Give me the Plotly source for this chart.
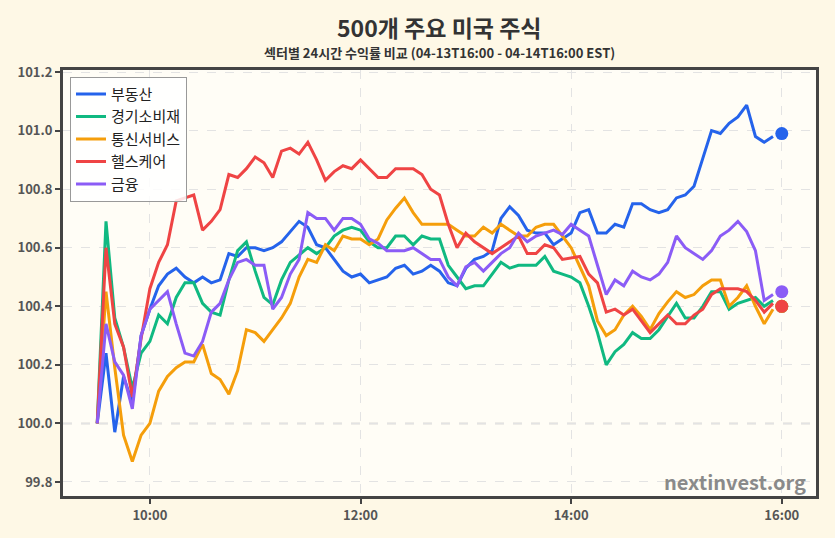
import pandas as pd
import plotly.graph_objects as go

times = pd.date_range("2025-04-14 09:30", periods=78, freq="5min")
end_time = pd.Timestamp("2025-04-14 16:00")

names = ["부동산", "경기소비재", "통신서비스", "헬스케어", "금융"]
colors = ["#2563EB", "#10B981", "#F59E0B", "#EF4444", "#8B5CF6"]

real_estate = [100.00, 100.24, 99.97, 100.16, 100.07, 100.30, 100.39, 100.47, 100.51, 100.53,
               100.50, 100.48, 100.50, 100.48, 100.49, 100.58, 100.57, 100.60, 100.60, 100.59,
               100.60, 100.62, 100.655, 100.69, 100.67, 100.61, 100.60, 100.56, 100.52, 100.50,
               100.51, 100.48, 100.49, 100.50, 100.53, 100.54, 100.51, 100.52, 100.54, 100.52,
               100.48, 100.47, 100.53, 100.56, 100.57, 100.59, 100.70, 100.74, 100.71, 100.66,
               100.65, 100.65, 100.61, 100.63, 100.65, 100.72, 100.73, 100.65, 100.65, 100.68,
               100.67, 100.75, 100.75, 100.73, 100.72, 100.73, 100.77, 100.78, 100.81, 100.905,
               101.00, 100.99, 101.025, 101.047, 101.087, 100.98, 100.96, 100.98]
consumer = [100.00, 100.69, 100.36, 100.26, 100.12, 100.24, 100.28, 100.37, 100.34, 100.43,
            100.48, 100.48, 100.41, 100.38, 100.37, 100.49, 100.59, 100.62, 100.52, 100.43,
            100.405, 100.49, 100.55, 100.575, 100.60, 100.58, 100.60, 100.64, 100.66, 100.67,
            100.66, 100.62, 100.60, 100.60, 100.64, 100.64, 100.61, 100.64, 100.63, 100.63,
            100.54, 100.50, 100.46, 100.47, 100.47, 100.51, 100.55, 100.53, 100.54, 100.54,
            100.54, 100.57, 100.52, 100.51, 100.50, 100.48, 100.40, 100.31, 100.20, 100.245,
            100.27, 100.31, 100.29, 100.29, 100.32, 100.365, 100.41, 100.36, 100.36, 100.40,
            100.45, 100.45, 100.39, 100.41, 100.42, 100.43, 100.40, 100.42]
telecom = [100.00, 100.45, 100.19, 99.96, 99.87, 99.96, 100.00, 100.11, 100.16, 100.19,
           100.21, 100.21, 100.27, 100.17, 100.15, 100.10, 100.18, 100.32, 100.31, 100.28,
           100.32, 100.36, 100.41, 100.50, 100.56, 100.55, 100.61, 100.59, 100.64, 100.63,
           100.63, 100.61, 100.63, 100.695, 100.735, 100.77, 100.72, 100.68, 100.68, 100.68,
           100.68, 100.66, 100.64, 100.64, 100.67, 100.65, 100.68, 100.66, 100.64, 100.64,
           100.67, 100.68, 100.68, 100.64, 100.60, 100.535, 100.47, 100.35, 100.30, 100.32,
           100.37, 100.40, 100.365, 100.32, 100.375, 100.415, 100.45, 100.43, 100.44, 100.47,
           100.49, 100.49, 100.40, 100.43, 100.47, 100.40, 100.34, 100.39]
healthcare = [100.00, 100.60, 100.34, 100.26, 100.09, 100.29, 100.46, 100.55, 100.61, 100.76,
              100.77, 100.78, 100.66, 100.69, 100.73, 100.85, 100.84, 100.87, 100.91, 100.89,
              100.84, 100.93, 100.94, 100.92, 100.96, 100.90, 100.83, 100.86, 100.88, 100.87,
              100.90, 100.87, 100.84, 100.84, 100.87, 100.87, 100.87, 100.85, 100.80, 100.78,
              100.68, 100.60, 100.65, 100.62, 100.60, 100.58, 100.60, 100.62, 100.64, 100.58,
              100.58, 100.61, 100.60, 100.56, 100.565, 100.57, 100.51, 100.48, 100.38, 100.39,
              100.37, 100.39, 100.35, 100.31, 100.34, 100.37, 100.34, 100.34, 100.37, 100.39,
              100.44, 100.46, 100.46, 100.46, 100.45, 100.42, 100.38, 100.41]
financials = [100.00, 100.34, 100.21, 100.165, 100.05, 100.30, 100.39, 100.42, 100.45, 100.34,
              100.24, 100.23, 100.28, 100.38, 100.41, 100.49, 100.55, 100.56, 100.54, 100.54,
              100.39, 100.43, 100.51, 100.56, 100.72, 100.70, 100.70, 100.66, 100.70, 100.70,
              100.68, 100.63, 100.615, 100.59, 100.59, 100.59, 100.60, 100.58, 100.56, 100.56,
              100.50, 100.47, 100.535, 100.55, 100.52, 100.55, 100.58, 100.60, 100.65, 100.62,
              100.64, 100.65, 100.66, 100.645, 100.68, 100.66, 100.64, 100.54, 100.44, 100.49,
              100.47, 100.52, 100.50, 100.49, 100.51, 100.55, 100.64, 100.60, 100.58, 100.56,
              100.59, 100.64, 100.66, 100.69, 100.655, 100.59, 100.42, 100.44]
series = [real_estate, consumer, telecom, healthcare, financials]
final_values = [100.99, 100.40, 100.40, 100.40, 100.45]

y_ticks = [99.8, 100.0, 100.2, 100.4, 100.6, 100.8, 101.0, 101.2]
x_ticks = ["2025-04-14 10:00", "2025-04-14 12:00", "2025-04-14 14:00", "2025-04-14 16:00"]
x_tick_labels = ["10:00", "12:00", "14:00", "16:00"]

FONT = "Noto Sans CJK KR"

fig = go.Figure()
for name, vals, col in zip(names, series, colors):
    fig.add_trace(go.Scatter(x=times, y=vals, mode="lines", name=name,
                             line=dict(color=col, width=3)))
for name, v, col in zip(names, final_values, colors):
    fig.add_trace(go.Scatter(x=[end_time], y=[v], mode="markers", showlegend=False,
                             marker=dict(color=col, size=13), hoverinfo="skip"))

fig.add_shape(type="line", xref="paper", x0=0, x1=1, yref="y", y0=100.0, y1=100.0,
              line=dict(color="#bbbbbb", width=1.5, dash="dash"), layer="below")

axis_common = dict(showline=True, mirror=True, linewidth=3, linecolor="#444444",
                   ticks="outside", ticklen=5, tickwidth=1.5, tickcolor="#444444",
                   showgrid=True, gridcolor="#e3e3e3", griddash="dash", gridwidth=1,
                   zeroline=False,
                   tickfont=dict(family=FONT, size=13, color="#555555", weight="bold"))

fig.update_xaxes(range=["2025-04-14 09:10:30", "2025-04-14 16:19:30"],
                 tickvals=x_ticks, ticktext=x_tick_labels, **axis_common)
fig.update_yaxes(range=[99.752, 101.207], tickvals=y_ticks,
                 ticktext=[f"{t:.1f}" for t in y_ticks], **axis_common)

fig.update_layout(
    width=835, height=538,
    margin=dict(l=63, r=19, t=70, b=42),
    paper_bgcolor="#FEF8E6",
    plot_bgcolor="#FFFDF6",
    font=dict(family=FONT),
    showlegend=True,
    legend=dict(x=0.0093, y=0.984, xanchor="left", yanchor="top",
                bgcolor="rgba(255,255,255,0.85)", bordercolor="#999999", borderwidth=1,
                font=dict(family=FONT, size=15, color="#222222")),
    annotations=[
        dict(text="500개 주요 미국 주식", xref="paper", yref="paper", x=0.5, y=1,
             yshift=43, xanchor="center", yanchor="middle", showarrow=False,
             font=dict(family=FONT, size=23, color="#333333", weight="bold")),
        dict(text="섹터별 24시간 수익률 비교 (04-13T16:00 - 04-14T16:00 EST)", xref="paper",
             yref="paper", x=0.5, y=1, yshift=18, xanchor="center", yanchor="middle",
             showarrow=False,
             font=dict(family=FONT, size=13, color="#333333", weight="bold")),
        dict(text="nextinvest.org", xref="paper", yref="paper", x=0.9894, y=0.035,
             xanchor="right", yanchor="middle", showarrow=False,
             font=dict(family=FONT, size=20, color="#8a8a8a", weight="bold")),
    ],
)

fig.write_html("out.html")
